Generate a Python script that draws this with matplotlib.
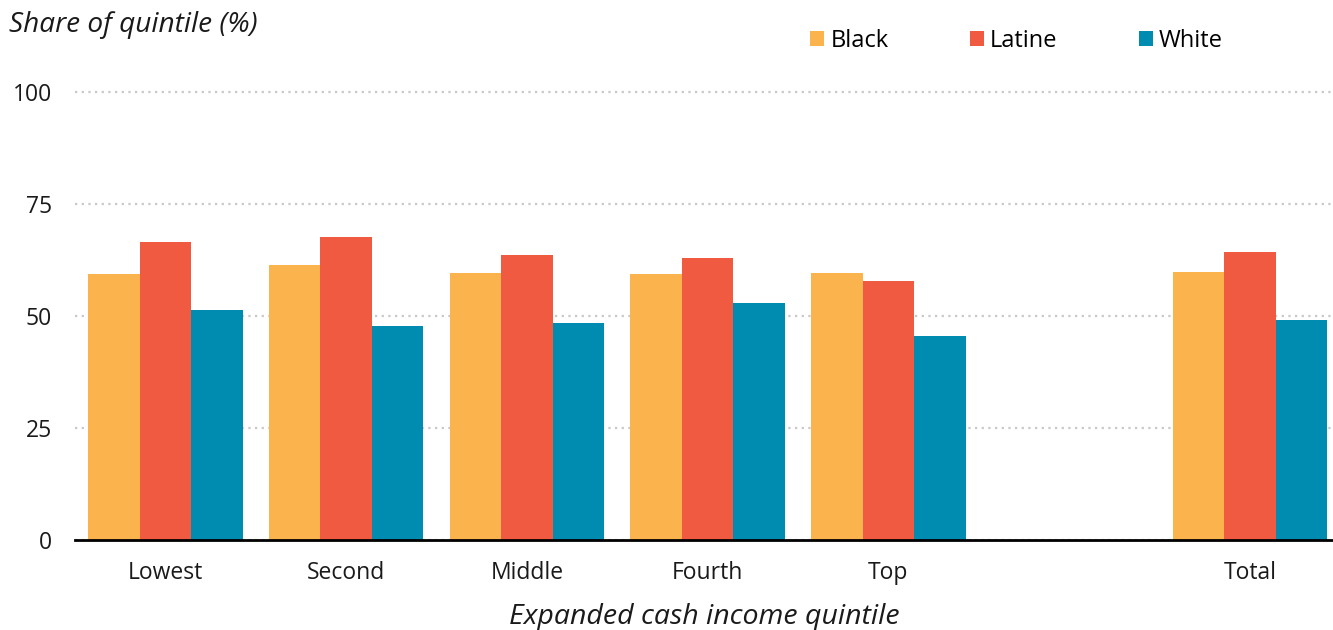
import matplotlib.pyplot as plt
import numpy as np

plt.rcParams['font.family'] = ['Open Sans', 'DejaVu Sans']

categories = ['Lowest', 'Second', 'Middle', 'Fourth', 'Top', 'Total']
positions = [0, 1, 2, 3, 4, 6]
black = [59.4, 61.3, 59.6, 59.4, 59.6, 59.9]
latine = [66.6, 67.6, 63.6, 63.0, 57.9, 64.2]
white = [51.4, 47.7, 48.5, 52.8, 45.6, 49.1]

series = [('Black', black, '#FBB44D'),
          ('Latine', latine, '#F05A40'),
          ('White', white, '#008CB1')]

fig = plt.figure(figsize=(13.33, 6.3), dpi=100)
ax = fig.add_axes([75 / 1333, 1 - 540 / 630, 1 - 75 / 1333, 448 / 630])

width = 0.285
x = np.array(positions, dtype=float)
for i, (name, vals, color) in enumerate(series):
    ax.bar(x + (i - 1) * width, vals, width, color=color, label=name, zorder=3)

ax.set_xlim(-0.5, 6.46)
ax.set_ylim(0, 100)
ax.set_yticks([0, 25, 50, 75, 100])
ax.set_xticks(x)
ax.set_xticklabels(categories)
ax.tick_params(axis='both', length=0, labelsize=16.5, colors='#1a1a1a')
ax.tick_params(axis='x', pad=15)
ax.tick_params(axis='y', pad=16.5)

ax.grid(axis='y', color='#c8c8c8', linestyle=(0, (1, 2)), linewidth=1.6, zorder=0)
for g in ax.get_ygridlines():
    g.set_clip_on(False)
for s in ['top', 'right', 'left']:
    ax.spines[s].set_visible(False)
ax.spines['bottom'].set_linewidth(2)
ax.spines['bottom'].set_zorder(4)

ax.set_xlabel('Expanded cash income quintile', fontsize=20.5, style='italic',
              color='#1a1a1a', labelpad=13)
fig.text(9 / 1333, 1 - 25 / 630, 'Share of quintile (%)', fontsize=20.2,
         style='italic', color='#1a1a1a', va='center', ha='left')

ax.legend(loc='center left', bbox_to_anchor=(789 / 1333, 1 - 41 / 630),
          bbox_transform=fig.transFigure, ncol=3, frameon=False, fontsize=17,
          handlelength=0.6, handleheight=0.6, handletextpad=0.25,
          columnspacing=3.45)

plt.savefig('out.png', dpi=100)
